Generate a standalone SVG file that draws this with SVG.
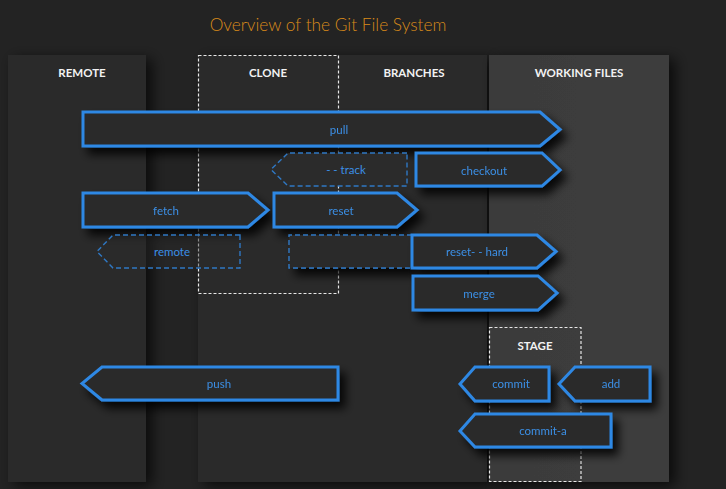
<svg xmlns="http://www.w3.org/2000/svg" width="726" height="489" viewBox="0 0 726 489">
<defs>
<style>
.hdr{font-family:Lato,"Noto Sans","Liberation Sans",sans-serif;font-weight:700;font-size:11.5px;fill:#f2f2f2;text-anchor:middle}
.lbl{font-family:Lato,"Noto Sans","Liberation Sans",sans-serif;font-size:11.5px;fill:#3b8fe6;text-anchor:middle}
.arr{fill:#2b2b2b;stroke:#2f88e4;stroke-width:3;stroke-linejoin:miter}
.dash{fill:#2b2b2b;stroke:#2f78c4;stroke-width:1.4;stroke-dasharray:5 3}
.box{fill:none;stroke:#e8e8e8;stroke-width:1.2;stroke-dasharray:3 2}
</style>
<filter id="sh" x="-20%" y="-40%" width="150%" height="220%">
<feDropShadow dx="6" dy="7" stdDeviation="5" flood-color="#000" flood-opacity="0.85"/>
</filter>
<filter id="psh" x="-30%" y="-10%" width="160%" height="120%">
<feDropShadow dx="6" dy="4" stdDeviation="7" flood-color="#000" flood-opacity="0.7"/>
</filter>
<linearGradient id="wf" x1="0" y1="0" x2="1" y2="0">
<stop offset="0" stop-color="#3a3a3a"/>
<stop offset="1" stop-color="#3e3e3e"/>
</linearGradient>
</defs>
<rect width="726" height="489" fill="#232323"/>
<text x="328" y="31" style="font-family:Lato,'Noto Sans','Liberation Sans',sans-serif;font-weight:300;font-size:17.3px;fill:#d88a1a;text-anchor:middle">Overview of the Git File System</text>

<g id="panels">
<rect x="8" y="55" width="138" height="427" fill="#2c2c2c" filter="url(#psh)"/>
<rect x="198" y="55" width="289" height="427" fill="#2a2a2a" filter="url(#psh)"/>
<rect x="489" y="55" width="180" height="427" fill="url(#wf)" filter="url(#psh)"/>
<rect x="198.5" y="55.5" width="140" height="238" class="box"/>
<rect x="489.5" y="327.5" width="91.5" height="154" class="box"/>
</g>

<g id="headers">
<text class="hdr" x="82" y="77">REMOTE</text>
<text class="hdr" x="268" y="77">CLONE</text>
<text class="hdr" x="414" y="77">BRANCHES</text>
<text class="hdr" x="579" y="77">WORKING FILES</text>
<text class="hdr" x="535" y="350">STAGE</text>
</g>

<g id="connectors"></g>

<g id="pull" filter="url(#sh)"><path class="arr" d="M83,112 H540 L560,129.5 L540,146 H83 Z"/><text class="lbl" x="339" y="134">pull</text></g>
<g id="track"><path class="dash" d="M407,153 H288 L271,169.5 L288,186 H407 Z"/><text class="lbl" x="346" y="174">- - track</text></g>
<g id="checkout" filter="url(#sh)"><path class="arr" d="M416,153 H542 L560,170 L542,186 H416 Z"/><text class="lbl" x="484" y="175">checkout</text></g>
<g id="fetch" filter="url(#sh)"><path class="arr" d="M83,193 H248 L268,210 L248,227 H83 Z"/><text class="lbl" x="166" y="215">fetch</text></g>
<g id="reset" filter="url(#sh)"><path class="arr" d="M274,193 H397 L417,210 L397,227 H274 Z"/><text class="lbl" x="341" y="215">reset</text></g>
<g id="remote"><path class="dash" style="fill-opacity:0.4" d="M240,235 H113 L97,251.5 L113,268 H240 Z"/><text class="lbl" x="172" y="256">remote</text></g>
<g id="blank" filter="url(#sh)"><path class="dash" d="M412,235 H289 V268 H412"/></g>
<g id="reset-hard" filter="url(#sh)"><path class="arr" d="M412,235 H537 L556,251.5 L537,268 H412 Z"/><text class="lbl" x="477" y="256">reset- - hard</text></g>
<g id="merge" filter="url(#sh)"><path class="arr" d="M413,276 H538 L557,293 L538,310 H413 Z"/><text class="lbl" x="479" y="298">merge</text></g>
<g id="push" filter="url(#sh)"><path class="arr" d="M338,367 H102 L82,383.5 L102,400 H338 Z"/><text class="lbl" x="219" y="388">push</text></g>
<g id="commit" filter="url(#sh)"><path class="arr" d="M549,367 H475 L460,384 L475,401 H549 Z"/><text class="lbl" x="511" y="388">commit</text></g>
<g id="add" filter="url(#sh)"><path class="arr" d="M650,367 H575 L559,384 L575,401 H650 Z"/><text class="lbl" x="611" y="388">add</text></g>
<g id="commit-a" filter="url(#sh)"><path class="arr" d="M611,414 H475 L460,431 L475,447 H611 Z"/><text class="lbl" x="543" y="435">commit-a</text></g>
</svg>
